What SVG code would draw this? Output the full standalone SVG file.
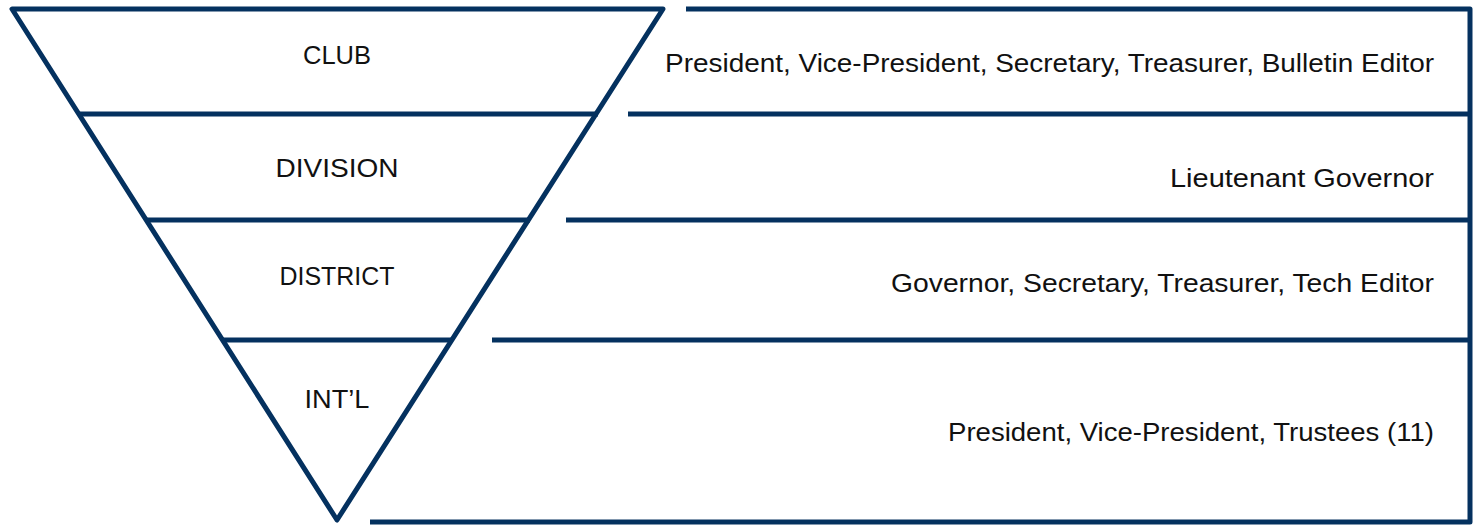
<svg xmlns="http://www.w3.org/2000/svg" width="1475" height="525" viewBox="0 0 1475 525">
<style>
.ln{stroke:#04315f;stroke-width:5;fill:none;stroke-linecap:butt;stroke-linejoin:round}
.t{font-family:"Liberation Sans","DejaVu Sans",sans-serif;font-size:26px;fill:#111}
.c{text-anchor:middle}
.r{text-anchor:end}
</style>
<rect width="1475" height="525" fill="#fff"/>
<g id="connectors">
<path class="ln" d="M12,9 L663,9 L337,520 Z"/>
<line class="ln" x1="78" y1="114" x2="598" y2="114"/>
<line class="ln" x1="146" y1="220" x2="530" y2="220"/>
<line class="ln" x1="222" y1="340" x2="451" y2="340"/>
<path class="ln" d="M686,9 L1470,9 L1470,522 L370,522"/>
<line class="ln" x1="628" y1="114" x2="1470" y2="114"/>
<line class="ln" x1="566" y1="220" x2="1470" y2="220"/>
<line class="ln" x1="492" y1="340" x2="1470" y2="340"/>
</g>
<g id="club"><text class="t c" x="337" y="64" textLength="68" lengthAdjust="spacingAndGlyphs">CLUB</text></g>
<g id="division"><text class="t c" x="337" y="177" textLength="123" lengthAdjust="spacingAndGlyphs">DIVISION</text></g>
<g id="district"><text class="t c" x="337" y="285" textLength="115" lengthAdjust="spacingAndGlyphs">DISTRICT</text></g>
<g id="intl"><text class="t c" x="337" y="408" textLength="65" lengthAdjust="spacingAndGlyphs">INT’L</text></g>
<g id="club-officers"><text class="t r" x="1434" y="72" textLength="769" lengthAdjust="spacingAndGlyphs">President, Vice-President, Secretary, Treasurer, Bulletin Editor</text></g>
<g id="division-officers"><text class="t r" x="1434" y="187" textLength="264" lengthAdjust="spacingAndGlyphs">Lieutenant Governor</text></g>
<g id="district-officers"><text class="t r" x="1434" y="292" textLength="543" lengthAdjust="spacingAndGlyphs">Governor, Secretary, Treasurer, Tech Editor</text></g>
<g id="intl-officers"><text class="t r" x="1434" y="441" textLength="486" lengthAdjust="spacingAndGlyphs">President, Vice-President, Trustees (11)</text></g>
</svg>
